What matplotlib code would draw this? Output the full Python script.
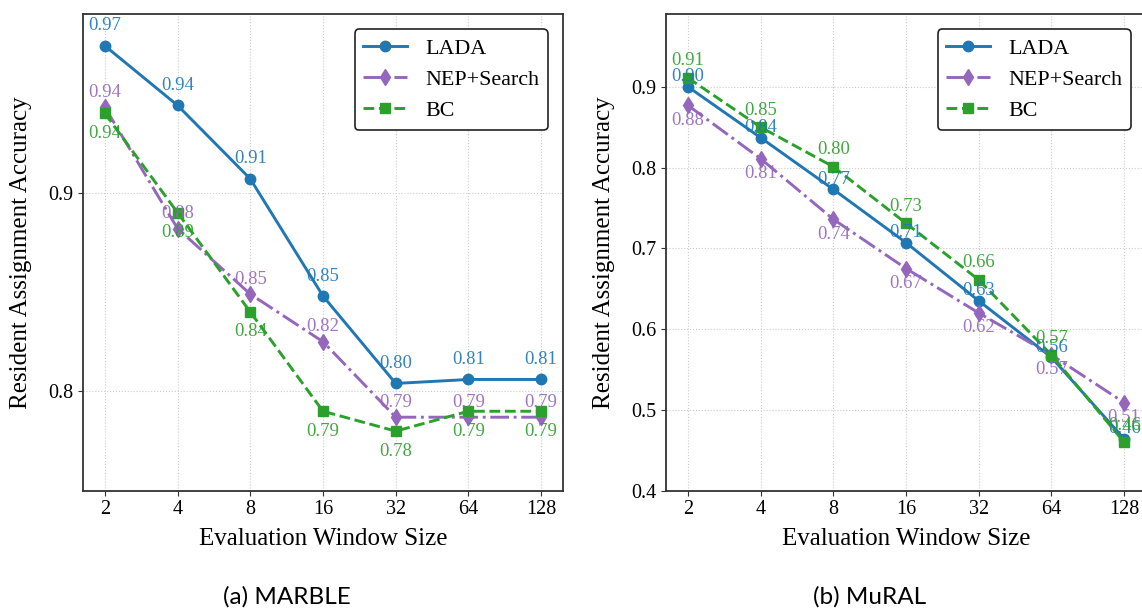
import numpy as np
import matplotlib
matplotlib.use("Agg")
import matplotlib.pyplot as plt
from matplotlib.ticker import MultipleLocator

plt.rcParams['font.family'] = ['Liberation Serif', 'DejaVu Serif']

windows = ['2', '4', '8', '16', '32', '64', '128']
methods = ['LADA', 'NEP+Search', 'BC']

# MARBLE
marble_lada = [0.974, 0.944, 0.907, 0.848, 0.804, 0.806, 0.806]
marble_nep = [0.943, 0.882, 0.849, 0.825, 0.787, 0.787, 0.787]
marble_bc = [0.940, 0.890, 0.840, 0.790, 0.780, 0.790, 0.790]
marble_lbl_lada = ['0.97', '0.94', '0.91', '0.85', '0.80', '0.81', '0.81']
marble_lbl_nep = ['0.94', '0.88', '0.85', '0.82', '0.79', '0.79', '0.79']
marble_lbl_bc = ['0.94', '0.89', '0.84', '0.79', '0.78', '0.79', '0.79']

# MuRAL
mural_lada = [0.900, 0.837, 0.773, 0.707, 0.635, 0.565, 0.464]
mural_nep = [0.877, 0.811, 0.736, 0.675, 0.620, 0.568, 0.509]
mural_bc = [0.911, 0.850, 0.801, 0.731, 0.661, 0.568, 0.460]
mural_lbl_lada = ['0.90', '0.84', '0.77', '0.71', '0.63', '0.56', '0.46']
mural_lbl_nep = ['0.88', '0.81', '0.74', '0.67', '0.62', '0.57', '0.51']
mural_lbl_bc = ['0.91', '0.85', '0.80', '0.73', '0.66', '0.57', '0.46']

colors = ['#1f77b4', '#9467bd', '#2ca02c']
styles = ['-', '-.', '--']
markers = ['o', 'd', 's']
msizes = [7.5, 8, 7]

W, H = 1142, 610
fig = plt.figure(figsize=(W / 100, H / 100), dpi=100)


def panel(left_px, series, labels, offsets, ylim, caption):
    ax = fig.add_axes([left_px / W, 1 - 490.7 / H, 480 / W, 476.7 / H])
    x = np.arange(len(windows))
    for i in range(3):
        ax.plot(x, series[i], linestyle=styles[i], marker=markers[i],
                color=colors[i], linewidth=2.1, markersize=msizes[i],
                label=methods[i], zorder=3)
        for xi, yi, t in zip(x, series[i], labels[i]):
            ax.annotate(t, (xi, yi), xytext=(0, offsets[i]),
                        textcoords='offset points', ha='center', va='center',
                        fontsize=13.5, color=colors[i], alpha=0.9, zorder=4)
    ax.set_xlim(-0.3, 6.3)
    ax.set_ylim(*ylim)
    ax.set_xticks(x)
    ax.set_xticklabels(windows)
    ax.yaxis.set_major_locator(MultipleLocator(0.1))
    ax.tick_params(labelsize=14.5, color='#333333')
    ax.grid(True, linestyle=':', color='#cccccc', linewidth=0.8)
    for s in ax.spines.values():
        s.set_color('#333333')
        s.set_linewidth(1.3)
    ax.set_xlabel('Evaluation Window Size', fontsize=18)
    ax.set_ylabel('Resident Assignment Accuracy', fontsize=18)
    ax.xaxis.set_label_coords(0.5, -0.078)
    ax.yaxis.set_label_coords(-0.106, 0.5)
    leg = ax.legend(loc='upper right', fontsize=15.8, frameon=True,
                    fancybox=True, framealpha=1, borderaxespad=0.7)
    leg.get_frame().set_edgecolor('#222222')
    leg.get_frame().set_linewidth(1.2)
    fig.text((left_px + 204) / W, 1 - 597 / H, caption, fontsize=17.5,
             family=['Lato', 'DejaVu Sans'], ha='center', va='center')
    return ax


panel(83, [marble_lada, marble_nep, marble_bc],
      [marble_lbl_lada, marble_lbl_nep, marble_lbl_bc],
      [14.4, 10.8, -14.4], (0.75, 0.99), '(a) MARBLE')
panel(666, [mural_lada, mural_nep, mural_bc],
      [mural_lbl_lada, mural_lbl_nep, mural_lbl_bc],
      [7.2, -10.8, 12.2], (0.4, 0.99), '(b) MuRAL')

fig.savefig('out.png', dpi=100)
